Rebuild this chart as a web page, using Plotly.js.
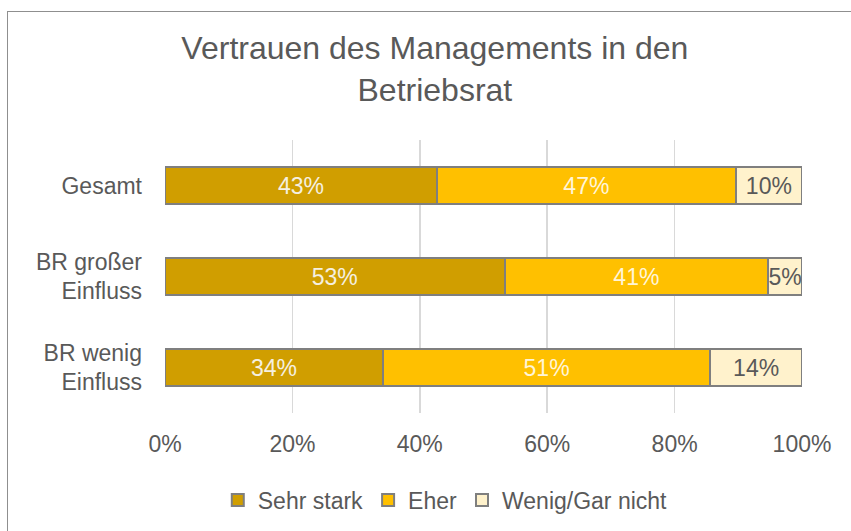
<!DOCTYPE html>
<html>
<head>
<meta charset="utf-8">
<script src="https://cdn.plot.ly/plotly-3.0.1.min.js"></script>
<style>
  html, body { margin: 0; padding: 0; background: #ffffff; overflow: hidden; }
  #chart { position: absolute; left: 0; top: 0; width: 851px; height: 531px; }
  #frame { position: absolute; left: 7px; top: 11px; width: 900px; height: 600px;
           border-left: 1.5px solid #8f8f8f; border-top: 1.5px solid #8f8f8f; pointer-events: none; }
</style>
</head>
<body>
<div id="chart"></div>
<div id="frame"></div>
<script>
const categories = ["Gesamt", "BR großer<br>Einfluss", "BR wenig<br>Einfluss"];
const seriesNames = ["Sehr stark", "Eher", "Wenig/Gar nicht"];
const sehrStark = [42.7, 53.3, 34.2];
const eher = [46.9, 41.4, 51.4];
const wenig = [10.4, 5.3, 14.4];
const tickVals = [0, 20, 40, 60, 80, 100];
const tickLabels = ["0%", "20%", "40%", "60%", "80%", "100%"];

const colors = ["#D09E00", "#FFC000", "#FFF2CC"];
const textColors = ["#F5F0E0", "#FFF5D8", "#595959"];
const values = [sehrStark, eher, wenig];
const fontFam = "Liberation Sans, Arial, sans-serif";

const traces = values.map((v, i) => ({
  type: "bar",
  orientation: "h",
  name: seriesNames[i],
  y: categories,
  x: v,
  width: 0.4,
  marker: { color: colors[i], line: { color: "#7f7f7f", width: 2 } },
  texttemplate: "%{x:.0f}%",
  textposition: "inside",
  insidetextanchor: "middle",
  textangle: 0,
  constraintext: "none",
  textfont: { family: fontFam, size: 23, color: textColors[i] },
  hoverinfo: "skip"
}));

const layout = {
  width: 851,
  height: 531,
  barmode: "stack",
  paper_bgcolor: "#ffffff",
  plot_bgcolor: "#ffffff",
  margin: { l: 165, r: 49, t: 140, b: 118, autoexpand: false },
  title: {
    text: "Vertrauen des Managements in den<br>Betriebsrat",
    font: { family: fontFam, size: 32, color: "#595959" },
    x: 0.511, xanchor: "center",
    y: 0.889, yanchor: "middle"
  },
  xaxis: {
    range: [0, 100],
    tickvals: tickVals,
    ticktext: tickLabels,
    showgrid: true,
    gridcolor: "#D9D9D9",
    gridwidth: 1.5,
    zeroline: false,
    showline: false,
    ticks: "",
    ticklabelstandoff: 15,
    tickfont: { family: fontFam, size: 23, color: "#595959" },
    fixedrange: true
  },
  yaxis: {
    autorange: "reversed",
    showgrid: false,
    zeroline: false,
    showline: false,
    ticks: "",
    ticklabelstandoff: 22,
    tickfont: { family: fontFam, size: 23, color: "#595959" },
    fixedrange: true
  },
  legend: {
    orientation: "h",
    x: 0.44, xanchor: "center",
    y: -0.24, yanchor: "top",
    font: { family: fontFam, size: 23, color: "#595959" },
    traceorder: "normal",
    itemwidth: 30
  },
  showlegend: true,
  hovermode: false
};

Plotly.newPlot("chart", traces, layout, { displayModeBar: false, staticPlot: true });
</script>
</body>
</html>
